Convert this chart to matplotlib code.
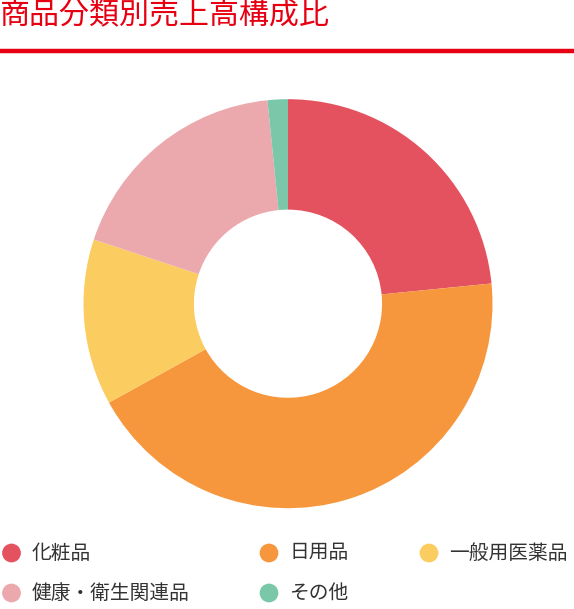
import matplotlib
matplotlib.use("Agg")
import matplotlib.pyplot as plt

plt.rcParams['font.family'] = ['Noto Sans CJK JP', 'DejaVu Sans']

# ---- data ----
title = "商品分類別売上高構成比"
categories = ["化粧品", "日用品", "一般用医薬品", "健康・衛生関連品", "その他"]
shares = [23.4, 43.5, 13.1, 18.3, 1.6]
colors = ["#E45260", "#F7973D", "#FBCD60", "#EBA9AE", "#7AC8A9"]

W, H = 574, 609
fig = plt.figure(figsize=(W / 100, H / 100), dpi=100)
fig.patch.set_facecolor("white")

# overlay axes in pixel coordinates (y downwards)
ov = fig.add_axes([0, 0, 1, 1])
ov.set_xlim(0, W)
ov.set_ylim(H, 0)
ov.axis("off")

# title and rule
ov.text(-0.5, 15.5, title, color="#E60012", fontsize=21.6, va="center", ha="left")
ov.plot([0, W], [50.8, 50.8], color="#E60012", lw=3.2, solid_capstyle="butt")

# donut
cx, cy, r = 288.0, 303.7, 204.5
ax = fig.add_axes([(cx - r) / W, (H - cy - r) / H, 2 * r / W, 2 * r / H])
ax.pie(shares, colors=colors, startangle=90, counterclock=False,
       radius=1.0, wedgeprops=dict(width=0.54, linewidth=0))
ax.set_xlim(-1, 1)
ax.set_ylim(-1, 1)
ax.axis("off")

# legend (manual layout)
leg_pos = [(11.5, 553), (269, 553), (429, 553), (11.5, 593), (269, 593)]
for (x, y), lab, col in zip(leg_pos, categories, colors):
    ov.scatter([x], [y], s=13.5 ** 2, color=col, edgecolors="none")
    ov.text(x + 20.5, y, lab, color="#333333", fontsize=14.2, va="center", ha="left")

fig.savefig("out.png", dpi=100, facecolor="white")
